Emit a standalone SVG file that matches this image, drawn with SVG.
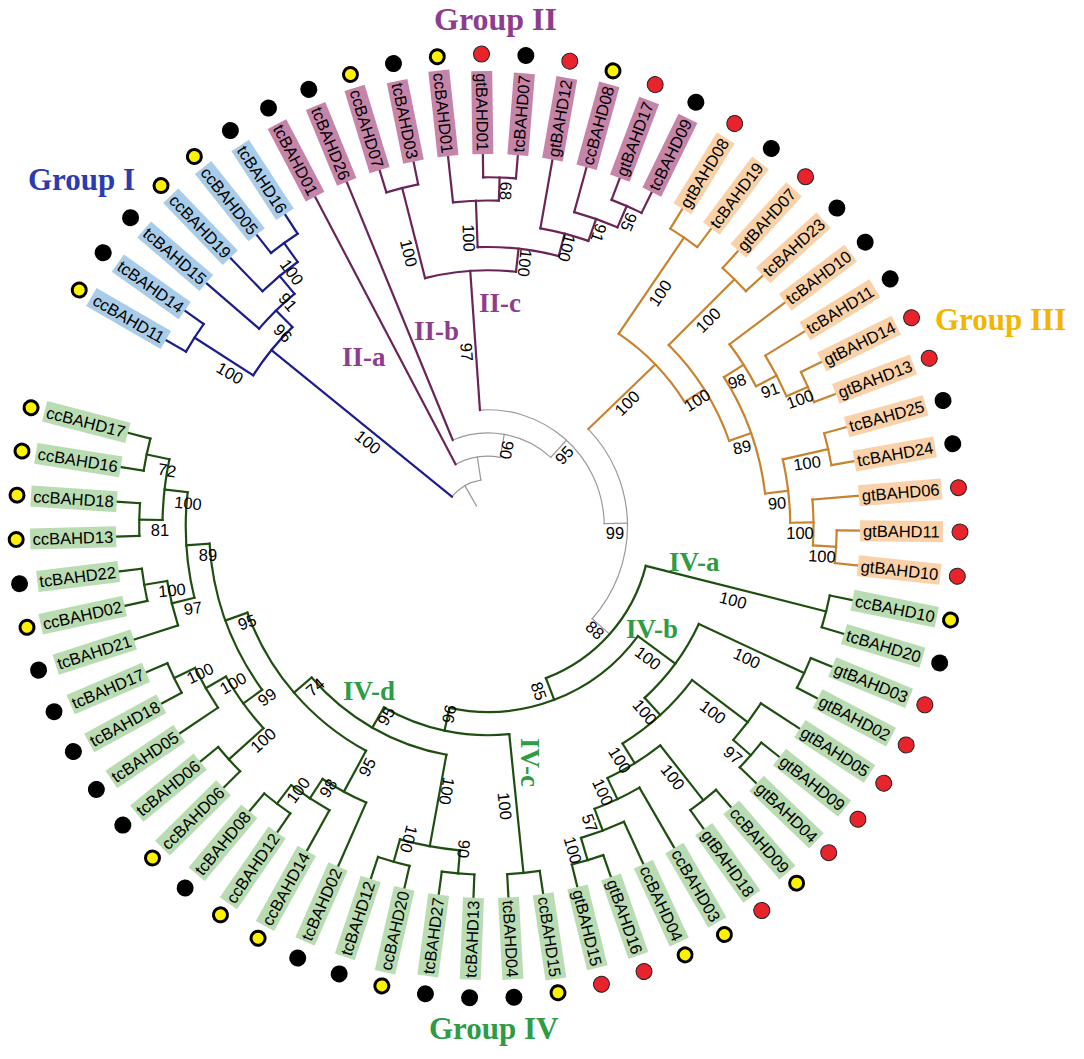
<svg xmlns="http://www.w3.org/2000/svg" width="1084" height="1059" viewBox="0 0 1084 1059">
<style>
.tr line,.tr circle{fill:none;stroke-linecap:square}
.gy{stroke:#9a9a9a;stroke-width:1.2}
.bl{stroke:#1c1c8c;stroke-width:2.2}
.pu{stroke:#6b2456;stroke-width:2.2}
.or{stroke:#c8832f;stroke-width:2.2}
.gr{stroke:#1f4f10;stroke-width:2.2}
.lv text{font-family:"Liberation Sans",Arial,sans-serif;font-size:16.5px;fill:#000}
.e{text-anchor:end}
.b1{fill:#a9cde9}.b2{fill:#c684a9}.b3{fill:#f9d2a9}.b4{fill:#b9dcb2}
.dk{fill:#000}.dy{fill:#fff200;stroke:#000;stroke-width:3}.dr{fill:#e8232b;stroke:#222;stroke-width:1}
.bs text{font-family:"Liberation Sans",Arial,sans-serif;font-size:16.5px;text-anchor:middle;fill:#000}
.grp{font-family:"Liberation Serif","Times New Roman",serif;font-weight:bold}
</style>
<rect width="1084" height="1059" fill="#fff"/>
<g id="connectors" class="tr" transform="translate(488 526)">
<g class="gy">
<line x1="23.25" x2="46.5" transform="rotate(240.13)"/>
<circle r="46.5" pathLength="360" stroke-dasharray="42.1 360" transform="rotate(219.08)"/>
<line x1="46.5" x2="69.75" transform="rotate(261.18)"/>
<circle r="69.75" pathLength="360" stroke-dasharray="37.75 360" transform="rotate(242.3)"/>
<line x1="69.75" x2="93" transform="rotate(280.05)"/>
<circle r="93" pathLength="360" stroke-dasharray="64.74 360" transform="rotate(247.68)"/>
<line x1="93" x2="116.25" transform="rotate(312.42)"/>
<circle r="116.25" pathLength="360" stroke-dasharray="92.81 360" transform="rotate(266.02)"/>
<line x1="116.25" x2="139.5" transform="rotate(358.83)"/>
<circle r="139.5" pathLength="360" stroke-dasharray="85.68 360" transform="rotate(315.98)"/>
<line x1="139.5" x2="162.75" transform="rotate(41.66)"/>
</g>
<g class="bl">
<line x1="46.5" x2="279" transform="rotate(219.08)"/>
<circle r="279" pathLength="360" stroke-dasharray="12.79 360" transform="rotate(212.69)"/>
<line x1="279" x2="348.75" transform="rotate(212.69)"/>
<line x1="279" x2="302.25" transform="rotate(225.48)"/>
<circle r="348.75" pathLength="360" stroke-dasharray="5.38 360" transform="rotate(210)"/>
<line x1="348.75" x2="372" transform="rotate(210)"/>
<line x1="348.75" x2="372" transform="rotate(215.38)"/>
<circle r="302.25" pathLength="360" stroke-dasharray="9.42 360" transform="rotate(220.77)"/>
<line x1="302.25" x2="372" transform="rotate(220.77)"/>
<line x1="302.25" x2="325.5" transform="rotate(230.19)"/>
<circle r="325.5" pathLength="360" stroke-dasharray="8.07 360" transform="rotate(226.15)"/>
<line x1="325.5" x2="372" transform="rotate(226.15)"/>
<line x1="325.5" x2="348.75" transform="rotate(234.22)"/>
<circle r="348.75" pathLength="360" stroke-dasharray="5.39 360" transform="rotate(231.53)"/>
<line x1="348.75" x2="372" transform="rotate(231.53)"/>
<line x1="348.75" x2="372" transform="rotate(236.92)"/>
</g>
<g class="pu">
<line x1="69.75" x2="372" transform="rotate(242.3)"/>
<line x1="93" x2="372" transform="rotate(247.68)"/>
<line x1="116.25" x2="255.75" transform="rotate(266.02)"/>
<circle r="255.75" pathLength="360" stroke-dasharray="20.52 360" transform="rotate(255.76)"/>
<line x1="255.75" x2="348.75" transform="rotate(255.76)"/>
<circle r="348.75" pathLength="360" stroke-dasharray="5.39 360" transform="rotate(253.06)"/>
<line x1="348.75" x2="372" transform="rotate(253.06)"/>
<line x1="348.75" x2="372" transform="rotate(258.45)"/>
<line x1="255.75" x2="279" transform="rotate(276.28)"/>
<circle r="279" pathLength="360" stroke-dasharray="16.82 360" transform="rotate(267.87)"/>
<line x1="279" x2="325.5" transform="rotate(267.87)"/>
<circle r="325.5" pathLength="360" stroke-dasharray="8.08 360" transform="rotate(263.83)"/>
<line x1="325.5" x2="372" transform="rotate(263.83)"/>
<line x1="325.5" x2="348.75" transform="rotate(271.91)"/>
<circle r="348.75" pathLength="360" stroke-dasharray="5.39 360" transform="rotate(269.21)"/>
<line x1="348.75" x2="372" transform="rotate(269.21)"/>
<line x1="348.75" x2="372" transform="rotate(274.6)"/>
<line x1="279" x2="302.25" transform="rotate(284.69)"/>
<circle r="302.25" pathLength="360" stroke-dasharray="9.42 360" transform="rotate(279.98)"/>
<line x1="302.25" x2="372" transform="rotate(279.98)"/>
<line x1="302.25" x2="325.5" transform="rotate(289.4)"/>
<circle r="325.5" pathLength="360" stroke-dasharray="8.08 360" transform="rotate(285.36)"/>
<line x1="325.5" x2="372" transform="rotate(285.36)"/>
<line x1="325.5" x2="348.75" transform="rotate(293.44)"/>
<circle r="348.75" pathLength="360" stroke-dasharray="5.38 360" transform="rotate(290.75)"/>
<line x1="348.75" x2="372" transform="rotate(290.75)"/>
<line x1="348.75" x2="372" transform="rotate(296.13)"/>
</g>
<g class="or">
<line x1="139.5" x2="232.5" transform="rotate(315.98)"/>
<circle r="232.5" pathLength="360" stroke-dasharray="23.55 360" transform="rotate(304.2)"/>
<line x1="232.5" x2="348.75" transform="rotate(304.2)"/>
<circle r="348.75" pathLength="360" stroke-dasharray="5.38 360" transform="rotate(301.51)"/>
<line x1="348.75" x2="372" transform="rotate(301.51)"/>
<line x1="348.75" x2="372" transform="rotate(306.89)"/>
<line x1="232.5" x2="255.75" transform="rotate(327.75)"/>
<circle r="255.75" pathLength="360" stroke-dasharray="25.57 360" transform="rotate(314.97)"/>
<line x1="255.75" x2="348.75" transform="rotate(314.97)"/>
<circle r="348.75" pathLength="360" stroke-dasharray="5.38 360" transform="rotate(312.28)"/>
<line x1="348.75" x2="372" transform="rotate(312.28)"/>
<line x1="348.75" x2="372" transform="rotate(317.66)"/>
<line x1="255.75" x2="279" transform="rotate(340.54)"/>
<circle r="279" pathLength="360" stroke-dasharray="25.57 360" transform="rotate(327.75)"/>
<line x1="279" x2="302.25" transform="rotate(327.75)"/>
<circle r="302.25" pathLength="360" stroke-dasharray="9.43 360" transform="rotate(323.04)"/>
<line x1="302.25" x2="372" transform="rotate(323.04)"/>
<line x1="302.25" x2="325.5" transform="rotate(332.47)"/>
<circle r="325.5" pathLength="360" stroke-dasharray="8.07 360" transform="rotate(328.43)"/>
<line x1="325.5" x2="372" transform="rotate(328.43)"/>
<line x1="325.5" x2="348.75" transform="rotate(336.5)"/>
<circle r="348.75" pathLength="360" stroke-dasharray="5.38 360" transform="rotate(333.81)"/>
<line x1="348.75" x2="372" transform="rotate(333.81)"/>
<line x1="348.75" x2="372" transform="rotate(339.19)"/>
<line x1="279" x2="302.25" transform="rotate(353.32)"/>
<circle r="302.25" pathLength="360" stroke-dasharray="12.11 360" transform="rotate(347.27)"/>
<line x1="302.25" x2="348.75" transform="rotate(347.27)"/>
<circle r="348.75" pathLength="360" stroke-dasharray="5.38 360" transform="rotate(344.58)"/>
<line x1="348.75" x2="372" transform="rotate(344.58)"/>
<line x1="348.75" x2="372" transform="rotate(349.96)"/>
<line x1="302.25" x2="325.5" transform="rotate(359.38)"/>
<circle r="325.5" pathLength="360" stroke-dasharray="8.07 360" transform="rotate(355.34)"/>
<line x1="325.5" x2="372" transform="rotate(355.34)"/>
<line x1="325.5" x2="348.75" transform="rotate(363.41)"/>
<circle r="348.75" pathLength="360" stroke-dasharray="5.39 360" transform="rotate(360.72)"/>
<line x1="348.75" x2="372" transform="rotate(360.72)"/>
<line x1="348.75" x2="372" transform="rotate(366.11)"/>
</g>
<g class="gr">
<circle r="162.75" pathLength="360" stroke-dasharray="54.97 360" transform="rotate(14.18)"/>
<line x1="162.75" x2="348.75" transform="rotate(14.18)"/>
<circle r="348.75" pathLength="360" stroke-dasharray="5.38 360" transform="rotate(11.49)"/>
<line x1="348.75" x2="372" transform="rotate(11.49)"/>
<line x1="348.75" x2="372" transform="rotate(16.87)"/>
<line x1="162.75" x2="186" transform="rotate(69.15)"/>
<circle r="186" pathLength="360" stroke-dasharray="65.69 360" transform="rotate(36.3)"/>
<line x1="186" x2="232.5" transform="rotate(36.3)"/>
<circle r="232.5" pathLength="360" stroke-dasharray="22.71 360" transform="rotate(24.95)"/>
<line x1="232.5" x2="348.75" transform="rotate(24.95)"/>
<circle r="348.75" pathLength="360" stroke-dasharray="5.38 360" transform="rotate(22.26)"/>
<line x1="348.75" x2="372" transform="rotate(22.26)"/>
<line x1="348.75" x2="372" transform="rotate(27.64)"/>
<line x1="232.5" x2="255.75" transform="rotate(47.66)"/>
<circle r="255.75" pathLength="360" stroke-dasharray="21.2 360" transform="rotate(37.06)"/>
<line x1="255.75" x2="325.5" transform="rotate(37.06)"/>
<circle r="325.5" pathLength="360" stroke-dasharray="8.08 360" transform="rotate(33.02)"/>
<line x1="325.5" x2="372" transform="rotate(33.02)"/>
<line x1="325.5" x2="348.75" transform="rotate(41.1)"/>
<circle r="348.75" pathLength="360" stroke-dasharray="5.39 360" transform="rotate(38.4)"/>
<line x1="348.75" x2="372" transform="rotate(38.4)"/>
<line x1="348.75" x2="372" transform="rotate(43.79)"/>
<line x1="255.75" x2="279" transform="rotate(58.26)"/>
<circle r="279" pathLength="360" stroke-dasharray="12.79 360" transform="rotate(51.86)"/>
<line x1="279" x2="348.75" transform="rotate(51.86)"/>
<circle r="348.75" pathLength="360" stroke-dasharray="5.38 360" transform="rotate(49.17)"/>
<line x1="348.75" x2="372" transform="rotate(49.17)"/>
<line x1="348.75" x2="372" transform="rotate(54.55)"/>
<line x1="279" x2="302.25" transform="rotate(64.65)"/>
<circle r="302.25" pathLength="360" stroke-dasharray="9.42 360" transform="rotate(59.94)"/>
<line x1="302.25" x2="372" transform="rotate(59.94)"/>
<line x1="302.25" x2="325.5" transform="rotate(69.36)"/>
<circle r="325.5" pathLength="360" stroke-dasharray="8.08 360" transform="rotate(65.32)"/>
<line x1="325.5" x2="372" transform="rotate(65.32)"/>
<line x1="325.5" x2="348.75" transform="rotate(73.4)"/>
<circle r="348.75" pathLength="360" stroke-dasharray="5.39 360" transform="rotate(70.7)"/>
<line x1="348.75" x2="372" transform="rotate(70.7)"/>
<line x1="348.75" x2="372" transform="rotate(76.09)"/>
<line x1="186" x2="209.25" transform="rotate(101.99)"/>
<circle r="209.25" pathLength="360" stroke-dasharray="35.67 360" transform="rotate(84.16)"/>
<line x1="209.25" x2="348.75" transform="rotate(84.16)"/>
<circle r="348.75" pathLength="360" stroke-dasharray="5.38 360" transform="rotate(81.47)"/>
<line x1="348.75" x2="372" transform="rotate(81.47)"/>
<line x1="348.75" x2="372" transform="rotate(86.85)"/>
<line x1="209.25" x2="232.5" transform="rotate(119.83)"/>
<circle r="232.5" pathLength="360" stroke-dasharray="39.03 360" transform="rotate(100.31)"/>
<line x1="232.5" x2="325.5" transform="rotate(100.31)"/>
<circle r="325.5" pathLength="360" stroke-dasharray="10.76 360" transform="rotate(94.93)"/>
<line x1="325.5" x2="348.75" transform="rotate(94.93)"/>
<line x1="325.5" x2="348.75" transform="rotate(105.69)"/>
<circle r="348.75" pathLength="360" stroke-dasharray="5.38 360" transform="rotate(92.24)"/>
<line x1="348.75" x2="372" transform="rotate(92.24)"/>
<line x1="348.75" x2="372" transform="rotate(97.62)"/>
<circle r="348.75" pathLength="360" stroke-dasharray="5.38 360" transform="rotate(103)"/>
<line x1="348.75" x2="372" transform="rotate(103)"/>
<line x1="348.75" x2="372" transform="rotate(108.38)"/>
<line x1="232.5" x2="255.75" transform="rotate(139.34)"/>
<circle r="255.75" pathLength="360" stroke-dasharray="41.72 360" transform="rotate(118.48)"/>
<line x1="255.75" x2="302.25" transform="rotate(118.48)"/>
<circle r="302.25" pathLength="360" stroke-dasharray="9.42 360" transform="rotate(113.77)"/>
<line x1="302.25" x2="372" transform="rotate(113.77)"/>
<line x1="302.25" x2="325.5" transform="rotate(123.19)"/>
<circle r="325.5" pathLength="360" stroke-dasharray="8.08 360" transform="rotate(119.15)"/>
<line x1="325.5" x2="372" transform="rotate(119.15)"/>
<line x1="325.5" x2="348.75" transform="rotate(127.23)"/>
<circle r="348.75" pathLength="360" stroke-dasharray="5.39 360" transform="rotate(124.53)"/>
<line x1="348.75" x2="372" transform="rotate(124.53)"/>
<line x1="348.75" x2="372" transform="rotate(129.92)"/>
<line x1="255.75" x2="279" transform="rotate(160.2)"/>
<circle r="279" pathLength="360" stroke-dasharray="32.3 360" transform="rotate(144.05)"/>
<line x1="279" x2="302.25" transform="rotate(144.05)"/>
<circle r="302.25" pathLength="360" stroke-dasharray="12.12 360" transform="rotate(137.99)"/>
<line x1="302.25" x2="348.75" transform="rotate(137.99)"/>
<circle r="348.75" pathLength="360" stroke-dasharray="5.38 360" transform="rotate(135.3)"/>
<line x1="348.75" x2="372" transform="rotate(135.3)"/>
<line x1="348.75" x2="372" transform="rotate(140.68)"/>
<line x1="302.25" x2="325.5" transform="rotate(150.11)"/>
<circle r="325.5" pathLength="360" stroke-dasharray="8.07 360" transform="rotate(146.07)"/>
<line x1="325.5" x2="372" transform="rotate(146.07)"/>
<line x1="325.5" x2="348.75" transform="rotate(154.14)"/>
<circle r="348.75" pathLength="360" stroke-dasharray="5.38 360" transform="rotate(151.45)"/>
<line x1="348.75" x2="372" transform="rotate(151.45)"/>
<line x1="348.75" x2="372" transform="rotate(156.83)"/>
<line x1="279" x2="302.25" transform="rotate(176.35)"/>
<circle r="302.25" pathLength="360" stroke-dasharray="20.18 360" transform="rotate(166.26)"/>
<line x1="302.25" x2="325.5" transform="rotate(166.26)"/>
<circle r="325.5" pathLength="360" stroke-dasharray="8.07 360" transform="rotate(162.22)"/>
<line x1="325.5" x2="372" transform="rotate(162.22)"/>
<line x1="325.5" x2="348.75" transform="rotate(170.29)"/>
<circle r="348.75" pathLength="360" stroke-dasharray="5.38 360" transform="rotate(167.6)"/>
<line x1="348.75" x2="372" transform="rotate(167.6)"/>
<line x1="348.75" x2="372" transform="rotate(172.98)"/>
<line x1="302.25" x2="325.5" transform="rotate(186.44)"/>
<circle r="325.5" pathLength="360" stroke-dasharray="10.77 360" transform="rotate(181.06)"/>
<line x1="325.5" x2="348.75" transform="rotate(181.06)"/>
<line x1="325.5" x2="348.75" transform="rotate(191.83)"/>
<circle r="348.75" pathLength="360" stroke-dasharray="5.39 360" transform="rotate(178.36)"/>
<line x1="348.75" x2="372" transform="rotate(178.36)"/>
<line x1="348.75" x2="372" transform="rotate(183.75)"/>
<circle r="348.75" pathLength="360" stroke-dasharray="5.38 360" transform="rotate(189.13)"/>
<line x1="348.75" x2="372" transform="rotate(189.13)"/>
<line x1="348.75" x2="372" transform="rotate(194.51)"/>
</g>
</g>
<g id="leaves" class="lv" transform="translate(488 526)">
<g id="ccBAHD11" transform="rotate(30)"><rect class="b1" x="-458" y="-10.5" width="86" height="21"/><text class="e" x="-375" y="6">ccBAHD11</text><circle class="dy" cx="-472" r="7"/></g>
<g id="tcBAHD14" transform="rotate(35.38)"><rect class="b1" x="-454" y="-10.5" width="82" height="21"/><text class="e" x="-375" y="6">tcBAHD14</text><circle class="dk" cx="-472" r="8.5"/></g>
<g id="tcBAHD15" transform="rotate(40.77)"><rect class="b1" x="-454" y="-10.5" width="82" height="21"/><text class="e" x="-375" y="6">tcBAHD15</text><circle class="dk" cx="-472" r="8.5"/></g>
<g id="ccBAHD19" transform="rotate(46.15)"><rect class="b1" x="-458" y="-10.5" width="86" height="21"/><text class="e" x="-375" y="6">ccBAHD19</text><circle class="dy" cx="-472" r="7"/></g>
<g id="ccBAHD05" transform="rotate(51.53)"><rect class="b1" x="-458" y="-10.5" width="86" height="21"/><text class="e" x="-375" y="6">ccBAHD05</text><circle class="dy" cx="-472" r="7"/></g>
<g id="tcBAHD16" transform="rotate(56.92)"><rect class="b1" x="-454" y="-10.5" width="82" height="21"/><text class="e" x="-375" y="6">tcBAHD16</text><circle class="dk" cx="-472" r="8.5"/></g>
<g id="tcBAHD01" transform="rotate(62.3)"><rect class="b2" x="-454" y="-10.5" width="82" height="21"/><text class="e" x="-375" y="6">tcBAHD01</text><circle class="dk" cx="-472" r="8.5"/></g>
<g id="tcBAHD26" transform="rotate(67.68)"><rect class="b2" x="-454" y="-10.5" width="82" height="21"/><text class="e" x="-375" y="6">tcBAHD26</text><circle class="dk" cx="-472" r="8.5"/></g>
<g id="ccBAHD07" transform="rotate(73.06)"><rect class="b2" x="-458" y="-10.5" width="86" height="21"/><text class="e" x="-375" y="6">ccBAHD07</text><circle class="dy" cx="-472" r="7"/></g>
<g id="tcBAHD03" transform="rotate(78.45)"><rect class="b2" x="-454" y="-10.5" width="82" height="21"/><text class="e" x="-375" y="6">tcBAHD03</text><circle class="dk" cx="-472" r="8.5"/></g>
<g id="ccBAHD01" transform="rotate(83.83)"><rect class="b2" x="-458" y="-10.5" width="86" height="21"/><text class="e" x="-375" y="6">ccBAHD01</text><circle class="dy" cx="-472" r="7"/></g>
<g id="gtBAHD01" transform="rotate(89.21)"><rect class="b2" x="-455" y="-10.5" width="83" height="21"/><text class="e" x="-375" y="6">gtBAHD01</text><circle class="dr" cx="-472" r="8"/></g>
<g id="tcBAHD07" transform="rotate(-85.4)"><rect class="b2" x="372" y="-10.5" width="82" height="21"/><text x="375" y="6">tcBAHD07</text><circle class="dk" cx="472" r="8.5"/></g>
<g id="gtBAHD12" transform="rotate(-80.02)"><rect class="b2" x="372" y="-10.5" width="83" height="21"/><text x="375" y="6">gtBAHD12</text><circle class="dr" cx="472" r="8"/></g>
<g id="ccBAHD08" transform="rotate(-74.64)"><rect class="b2" x="372" y="-10.5" width="86" height="21"/><text x="375" y="6">ccBAHD08</text><circle class="dy" cx="472" r="7"/></g>
<g id="gtBAHD17" transform="rotate(-69.25)"><rect class="b2" x="372" y="-10.5" width="83" height="21"/><text x="375" y="6">gtBAHD17</text><circle class="dr" cx="472" r="8"/></g>
<g id="tcBAHD09" transform="rotate(-63.87)"><rect class="b2" x="372" y="-10.5" width="82" height="21"/><text x="375" y="6">tcBAHD09</text><circle class="dk" cx="472" r="8.5"/></g>
<g id="gtBAHD08" transform="rotate(-58.49)"><rect class="b3" x="372" y="-10.5" width="83" height="21"/><text x="375" y="6">gtBAHD08</text><circle class="dr" cx="472" r="8"/></g>
<g id="tcBAHD19" transform="rotate(-53.11)"><rect class="b3" x="372" y="-10.5" width="82" height="21"/><text x="375" y="6">tcBAHD19</text><circle class="dk" cx="472" r="8.5"/></g>
<g id="gtBAHD07" transform="rotate(-47.72)"><rect class="b3" x="372" y="-10.5" width="83" height="21"/><text x="375" y="6">gtBAHD07</text><circle class="dr" cx="472" r="8"/></g>
<g id="tcBAHD23" transform="rotate(-42.34)"><rect class="b3" x="372" y="-10.5" width="82" height="21"/><text x="375" y="6">tcBAHD23</text><circle class="dk" cx="472" r="8.5"/></g>
<g id="tcBAHD10" transform="rotate(-36.96)"><rect class="b3" x="372" y="-10.5" width="82" height="21"/><text x="375" y="6">tcBAHD10</text><circle class="dk" cx="472" r="8.5"/></g>
<g id="tcBAHD11" transform="rotate(-31.57)"><rect class="b3" x="372" y="-10.5" width="82" height="21"/><text x="375" y="6">tcBAHD11</text><circle class="dk" cx="472" r="8.5"/></g>
<g id="gtBAHD14" transform="rotate(-26.19)"><rect class="b3" x="372" y="-10.5" width="83" height="21"/><text x="375" y="6">gtBAHD14</text><circle class="dr" cx="472" r="8"/></g>
<g id="gtBAHD13" transform="rotate(-20.81)"><rect class="b3" x="372" y="-10.5" width="83" height="21"/><text x="375" y="6">gtBAHD13</text><circle class="dr" cx="472" r="8"/></g>
<g id="tcBAHD25" transform="rotate(-15.42)"><rect class="b3" x="372" y="-10.5" width="82" height="21"/><text x="375" y="6">tcBAHD25</text><circle class="dk" cx="472" r="8.5"/></g>
<g id="tcBAHD24" transform="rotate(-10.04)"><rect class="b3" x="372" y="-10.5" width="82" height="21"/><text x="375" y="6">tcBAHD24</text><circle class="dk" cx="472" r="8.5"/></g>
<g id="gtBAHD06" transform="rotate(-4.66)"><rect class="b3" x="372" y="-10.5" width="83" height="21"/><text x="375" y="6">gtBAHD06</text><circle class="dr" cx="472" r="8"/></g>
<g id="gtBAHD11" transform="rotate(0.72)"><rect class="b3" x="372" y="-10.5" width="83" height="21"/><text x="375" y="6">gtBAHD11</text><circle class="dr" cx="472" r="8"/></g>
<g id="gtBAHD10" transform="rotate(6.11)"><rect class="b3" x="372" y="-10.5" width="83" height="21"/><text x="375" y="6">gtBAHD10</text><circle class="dr" cx="472" r="8"/></g>
<g id="ccBAHD10" transform="rotate(11.49)"><rect class="b4" x="372" y="-10.5" width="86" height="21"/><text x="375" y="6">ccBAHD10</text><circle class="dy" cx="472" r="7"/></g>
<g id="tcBAHD20" transform="rotate(16.87)"><rect class="b4" x="372" y="-10.5" width="82" height="21"/><text x="375" y="6">tcBAHD20</text><circle class="dk" cx="472" r="8.5"/></g>
<g id="gtBAHD03" transform="rotate(22.26)"><rect class="b4" x="372" y="-10.5" width="83" height="21"/><text x="375" y="6">gtBAHD03</text><circle class="dr" cx="472" r="8"/></g>
<g id="gtBAHD02" transform="rotate(27.64)"><rect class="b4" x="372" y="-10.5" width="83" height="21"/><text x="375" y="6">gtBAHD02</text><circle class="dr" cx="472" r="8"/></g>
<g id="gtBAHD05" transform="rotate(33.02)"><rect class="b4" x="372" y="-10.5" width="83" height="21"/><text x="375" y="6">gtBAHD05</text><circle class="dr" cx="472" r="8"/></g>
<g id="gtBAHD09" transform="rotate(38.4)"><rect class="b4" x="372" y="-10.5" width="83" height="21"/><text x="375" y="6">gtBAHD09</text><circle class="dr" cx="472" r="8"/></g>
<g id="gtBAHD04" transform="rotate(43.79)"><rect class="b4" x="372" y="-10.5" width="83" height="21"/><text x="375" y="6">gtBAHD04</text><circle class="dr" cx="472" r="8"/></g>
<g id="ccBAHD09" transform="rotate(49.17)"><rect class="b4" x="372" y="-10.5" width="86" height="21"/><text x="375" y="6">ccBAHD09</text><circle class="dy" cx="472" r="7"/></g>
<g id="gtBAHD18" transform="rotate(54.55)"><rect class="b4" x="372" y="-10.5" width="83" height="21"/><text x="375" y="6">gtBAHD18</text><circle class="dr" cx="472" r="8"/></g>
<g id="ccBAHD03" transform="rotate(59.94)"><rect class="b4" x="372" y="-10.5" width="86" height="21"/><text x="375" y="6">ccBAHD03</text><circle class="dy" cx="472" r="7"/></g>
<g id="ccBAHD04" transform="rotate(65.32)"><rect class="b4" x="372" y="-10.5" width="86" height="21"/><text x="375" y="6">ccBAHD04</text><circle class="dy" cx="472" r="7"/></g>
<g id="gtBAHD16" transform="rotate(70.7)"><rect class="b4" x="372" y="-10.5" width="83" height="21"/><text x="375" y="6">gtBAHD16</text><circle class="dr" cx="472" r="8"/></g>
<g id="gtBAHD15" transform="rotate(76.09)"><rect class="b4" x="372" y="-10.5" width="83" height="21"/><text x="375" y="6">gtBAHD15</text><circle class="dr" cx="472" r="8"/></g>
<g id="ccBAHD15" transform="rotate(81.47)"><rect class="b4" x="372" y="-10.5" width="86" height="21"/><text x="375" y="6">ccBAHD15</text><circle class="dy" cx="472" r="7"/></g>
<g id="tcBAHD04" transform="rotate(86.85)"><rect class="b4" x="372" y="-10.5" width="82" height="21"/><text x="375" y="6">tcBAHD04</text><circle class="dk" cx="472" r="8.5"/></g>
<g id="tcBAHD13" transform="rotate(-87.76)"><rect class="b4" x="-454" y="-10.5" width="82" height="21"/><text class="e" x="-375" y="6">tcBAHD13</text><circle class="dk" cx="-472" r="8.5"/></g>
<g id="tcBAHD27" transform="rotate(-82.38)"><rect class="b4" x="-454" y="-10.5" width="82" height="21"/><text class="e" x="-375" y="6">tcBAHD27</text><circle class="dk" cx="-472" r="8.5"/></g>
<g id="ccBAHD20" transform="rotate(-77)"><rect class="b4" x="-458" y="-10.5" width="86" height="21"/><text class="e" x="-375" y="6">ccBAHD20</text><circle class="dy" cx="-472" r="7"/></g>
<g id="tcBAHD12" transform="rotate(-71.62)"><rect class="b4" x="-454" y="-10.5" width="82" height="21"/><text class="e" x="-375" y="6">tcBAHD12</text><circle class="dk" cx="-472" r="8.5"/></g>
<g id="tcBAHD02" transform="rotate(-66.23)"><rect class="b4" x="-454" y="-10.5" width="82" height="21"/><text class="e" x="-375" y="6">tcBAHD02</text><circle class="dk" cx="-472" r="8.5"/></g>
<g id="ccBAHD14" transform="rotate(-60.85)"><rect class="b4" x="-458" y="-10.5" width="86" height="21"/><text class="e" x="-375" y="6">ccBAHD14</text><circle class="dy" cx="-472" r="7"/></g>
<g id="ccBAHD12" transform="rotate(-55.47)"><rect class="b4" x="-458" y="-10.5" width="86" height="21"/><text class="e" x="-375" y="6">ccBAHD12</text><circle class="dy" cx="-472" r="7"/></g>
<g id="tcBAHD08" transform="rotate(-50.08)"><rect class="b4" x="-454" y="-10.5" width="82" height="21"/><text class="e" x="-375" y="6">tcBAHD08</text><circle class="dk" cx="-472" r="8.5"/></g>
<g id="ccBAHD06" transform="rotate(-44.7)"><rect class="b4" x="-458" y="-10.5" width="86" height="21"/><text class="e" x="-375" y="6">ccBAHD06</text><circle class="dy" cx="-472" r="7"/></g>
<g id="tcBAHD06" transform="rotate(-39.32)"><rect class="b4" x="-454" y="-10.5" width="82" height="21"/><text class="e" x="-375" y="6">tcBAHD06</text><circle class="dk" cx="-472" r="8.5"/></g>
<g id="tcBAHD05" transform="rotate(-33.93)"><rect class="b4" x="-454" y="-10.5" width="82" height="21"/><text class="e" x="-375" y="6">tcBAHD05</text><circle class="dk" cx="-472" r="8.5"/></g>
<g id="tcBAHD18" transform="rotate(-28.55)"><rect class="b4" x="-454" y="-10.5" width="82" height="21"/><text class="e" x="-375" y="6">tcBAHD18</text><circle class="dk" cx="-472" r="8.5"/></g>
<g id="tcBAHD17" transform="rotate(-23.17)"><rect class="b4" x="-454" y="-10.5" width="82" height="21"/><text class="e" x="-375" y="6">tcBAHD17</text><circle class="dk" cx="-472" r="8.5"/></g>
<g id="tcBAHD21" transform="rotate(-17.78)"><rect class="b4" x="-454" y="-10.5" width="82" height="21"/><text class="e" x="-375" y="6">tcBAHD21</text><circle class="dk" cx="-472" r="8.5"/></g>
<g id="ccBAHD02" transform="rotate(-12.4)"><rect class="b4" x="-458" y="-10.5" width="86" height="21"/><text class="e" x="-375" y="6">ccBAHD02</text><circle class="dy" cx="-472" r="7"/></g>
<g id="tcBAHD22" transform="rotate(-7.02)"><rect class="b4" x="-454" y="-10.5" width="82" height="21"/><text class="e" x="-375" y="6">tcBAHD22</text><circle class="dk" cx="-472" r="8.5"/></g>
<g id="ccBAHD13" transform="rotate(-1.64)"><rect class="b4" x="-458" y="-10.5" width="86" height="21"/><text class="e" x="-375" y="6">ccBAHD13</text><circle class="dy" cx="-472" r="7"/></g>
<g id="ccBAHD18" transform="rotate(3.75)"><rect class="b4" x="-458" y="-10.5" width="86" height="21"/><text class="e" x="-375" y="6">ccBAHD18</text><circle class="dy" cx="-472" r="7"/></g>
<g id="ccBAHD16" transform="rotate(9.13)"><rect class="b4" x="-458" y="-10.5" width="86" height="21"/><text class="e" x="-375" y="6">ccBAHD16</text><circle class="dy" cx="-472" r="7"/></g>
<g id="ccBAHD17" transform="rotate(14.51)"><rect class="b4" x="-458" y="-10.5" width="86" height="21"/><text class="e" x="-375" y="6">ccBAHD17</text><circle class="dy" cx="-472" r="7"/></g>
</g>
<g id="bootstrap" class="bs">
<text transform="translate(292 272) rotate(54)" y="6">100</text>
<text transform="translate(288 302) rotate(50)" y="6">91</text>
<text transform="translate(283 333) rotate(45)" y="6">96</text>
<text transform="translate(230 373) rotate(30)" y="6">100</text>
<text transform="translate(368 442) rotate(39)" y="6">100</text>
<text transform="translate(467 352) rotate(86)" y="6">97</text>
<text transform="translate(409 253) rotate(76)" y="6">100</text>
<text transform="translate(469 238) rotate(88)" y="6">100</text>
<text transform="translate(506 191) rotate(92)" y="6">68</text>
<text transform="translate(525 263) rotate(96)" y="6">100</text>
<text transform="translate(567 248) rotate(105)" y="6">100</text>
<text transform="translate(599 233) rotate(109)" y="6">91</text>
<text transform="translate(629 222) rotate(113)" y="6">95</text>
<text transform="translate(507 450) rotate(100)" y="6">90</text>
<text transform="translate(564 455) rotate(-47)" y="6">95</text>
<text transform="translate(615 533)" y="6">99</text>
<text transform="translate(595 630) rotate(42)" y="6">88</text>
<text transform="translate(627 403) rotate(-45)" y="6">100</text>
<text transform="translate(660 293) rotate(-56)" y="6">100</text>
<text transform="translate(697 400) rotate(-32)" y="6">100</text>
<text transform="translate(708 320) rotate(-45)" y="6">100</text>
<text transform="translate(742 447) rotate(-12)" y="6">89</text>
<text transform="translate(737 381) rotate(-18)" y="6">98</text>
<text transform="translate(770 390) rotate(-20)" y="6">91</text>
<text transform="translate(800 399) rotate(-20)" y="6">100</text>
<text transform="translate(777 503) rotate(-5)" y="6">90</text>
<text transform="translate(807 463) rotate(-8)" y="6">100</text>
<text transform="translate(800 533)" y="6">100</text>
<text transform="translate(822 556) rotate(3)" y="6">100</text>
<text transform="translate(733 600) rotate(15)" y="6">100</text>
<text transform="translate(539 691) rotate(70)" y="6">85</text>
<text transform="translate(648 658) rotate(37)" y="6">100</text>
<text transform="translate(747 658) rotate(25)" y="6">100</text>
<text transform="translate(645 712) rotate(50)" y="6">100</text>
<text transform="translate(713 712) rotate(37)" y="6">100</text>
<text transform="translate(733 755) rotate(40)" y="6">97</text>
<text transform="translate(620 760) rotate(58)" y="6">100</text>
<text transform="translate(673 777) rotate(52)" y="6">100</text>
<text transform="translate(603 792) rotate(65)" y="6">100</text>
<text transform="translate(590 823) rotate(70)" y="6">57</text>
<text transform="translate(573 850) rotate(74)" y="6">100</text>
<text transform="translate(449 714) rotate(-78)" y="6">96</text>
<text transform="translate(505 806) rotate(84)" y="6">100</text>
<text transform="translate(386 716) rotate(-60)" y="6">95</text>
<text transform="translate(447 791) rotate(100)" y="6">100</text>
<text transform="translate(464 849) rotate(95)" y="6">90</text>
<text transform="translate(409 839) rotate(105)" y="6">100</text>
<text transform="translate(315 687) rotate(-41)" y="6">74</text>
<text transform="translate(367 767) rotate(-62)" y="6">95</text>
<text transform="translate(328 788) rotate(-57)" y="6">98</text>
<text transform="translate(298 790) rotate(-53)" y="6">100</text>
<text transform="translate(263 740) rotate(-42)" y="6">100</text>
<text transform="translate(267 697) rotate(-36)" y="6">99</text>
<text transform="translate(233 683) rotate(-30)" y="6">100</text>
<text transform="translate(200 673) rotate(-26)" y="6">100</text>
<text transform="translate(247 622) rotate(-20)" y="6">95</text>
<text transform="translate(208 555)" y="6">89</text>
<text transform="translate(193 608) rotate(-8)" y="6">97</text>
<text transform="translate(172 590) rotate(-5)" y="6">100</text>
<text transform="translate(188 503) rotate(5)" y="6">100</text>
<text transform="translate(160 530)" y="6">81</text>
<text transform="translate(167 470) rotate(10)" y="6">72</text>
</g>
<g id="group-labels" class="grp">
<text x="28" y="190" font-size="31" fill="#2a3cb0">Group I</text>
<text x="434" y="30" font-size="32" fill="#8e3d8e">Group II</text>
<text x="935" y="330" font-size="31" fill="#f2b600">Group III</text>
<text x="429" y="1039" font-size="31" fill="#2e9b45">Group IV</text>
<text x="342" y="366" font-size="27" fill="#8e3d8e">II-a</text>
<text x="414" y="340" font-size="27" fill="#8e3d8e">II-b</text>
<text x="479" y="312" font-size="27" fill="#8e3d8e">II-c</text>
<text x="669" y="571" font-size="27" fill="#2e9b45">IV-a</text>
<text x="626" y="638" font-size="27" fill="#2e9b45">IV-b</text>
<text transform="translate(521 738) rotate(90)" font-size="27" fill="#2e9b45">IV-c</text>
<text x="343" y="700" font-size="27" fill="#2e9b45">IV-d</text>
</g>
</svg>
